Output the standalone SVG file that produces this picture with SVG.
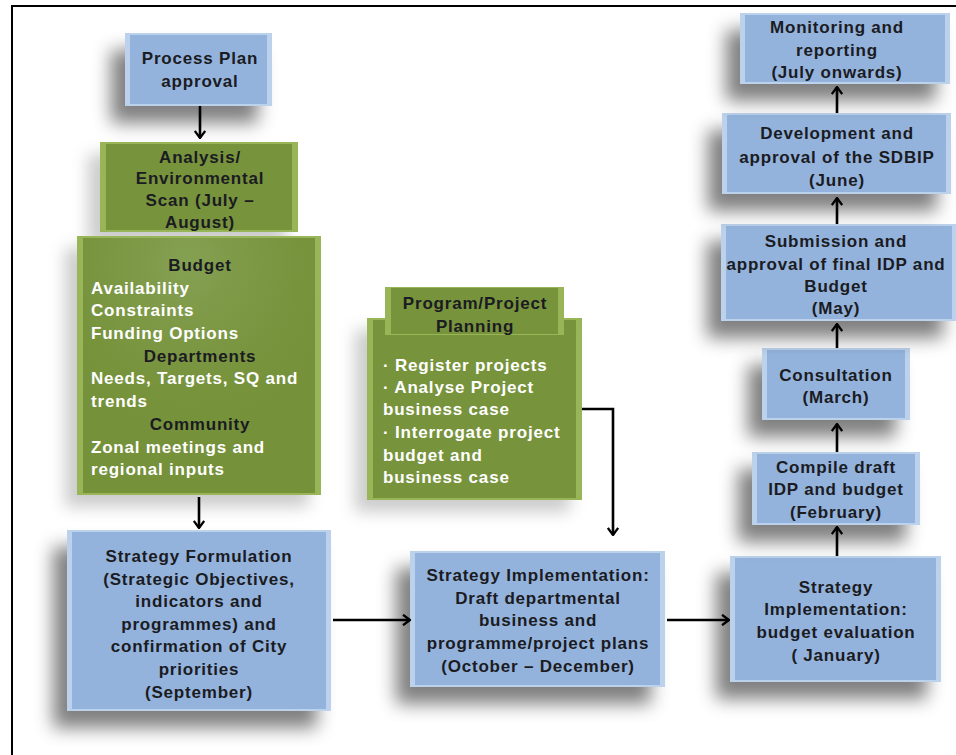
<svg xmlns="http://www.w3.org/2000/svg" width="956" height="755" viewBox="0 0 956 755">
<style>
.t{font-family:"Liberation Sans",Arial,sans-serif;font-weight:bold;font-size:17px;letter-spacing:0.8px;text-anchor:middle;fill:#1b1b22}
.w{fill:#ffffff;text-anchor:start}
.bo{fill:#bcd1eb}
.bi{fill:#93b3dc}
.go{fill:#98b658}
.gi{fill:#77933c}
.c{fill:none;stroke:#000;stroke-width:2.6}
</style>
<defs>
<filter id="sh" x="-30%" y="-30%" width="160%" height="180%">
<feGaussianBlur in="SourceAlpha" stdDeviation="9"/>
<feOffset dx="-14" dy="17" result="b"/>
<feFlood flood-color="#000" flood-opacity="0.5"/>
<feComposite in2="b" operator="in"/>
<feMerge><feMergeNode/><feMergeNode in="SourceGraphic"/></feMerge>
</filter>
<filter id="shl" x="-30%" y="-30%" width="160%" height="170%">
<feGaussianBlur in="SourceAlpha" stdDeviation="8"/>
<feOffset dx="-12" dy="12" result="b"/>
<feFlood flood-color="#000" flood-opacity="0.2"/>
<feComposite in2="b" operator="in"/>
<feMerge><feMergeNode/><feMergeNode in="SourceGraphic"/></feMerge>
</filter>
<radialGradient id="gg" cx="0.45" cy="0.1" r="0.7">
<stop offset="0" stop-color="#84a052"/>
<stop offset="0.7" stop-color="#77933c"/>
<stop offset="1" stop-color="#75913a"/>
</radialGradient>
<marker id="ah" viewBox="0 0 12 12" refX="11" refY="6" markerWidth="12" markerHeight="12" markerUnits="userSpaceOnUse" orient="auto">
<path d="M4,0.8 L11,6 L4,11.2" fill="none" stroke="#000" stroke-width="2.3"/>
</marker>
</defs>

<rect width="956" height="755" fill="#ffffff"/>
<path d="M12,755 V6 H956" fill="none" stroke="#000" stroke-width="2"/>

<g id="n-process">
<rect class="bo" x="125" y="33" width="147" height="73" filter="url(#sh)"/>
<rect class="bi" x="130" y="35" width="137" height="69"/>
<text class="t" x="200" y="64">Process Plan</text>
<text class="t" x="200" y="87">approval</text>
</g>

<g id="n-analysis">
<rect class="go" x="100" y="142" width="198" height="90" filter="url(#shl)"/>
<rect class="gi" x="106" y="144" width="186" height="86"/>
<text class="t" x="200" y="163">Analysis/</text>
<text class="t" x="200" y="184">Environmental</text>
<text class="t" x="200" y="206">Scan (July –</text>
<text class="t" x="200" y="228">August)</text>
</g>

<g id="n-budget">
<rect class="go" x="77" y="236" width="244" height="259" filter="url(#shl)"/>
<rect x="83" y="238" width="232" height="255" fill="url(#gg)"/>
<text class="t" x="200" y="271">Budget</text>
<text class="t w" x="91" y="294">Availability</text>
<text class="t w" x="91" y="316">Constraints</text>
<text class="t w" x="91" y="339">Funding Options</text>
<text class="t" x="200" y="362">Departments</text>
<text class="t w" x="91" y="384">Needs, Targets, SQ and</text>
<text class="t w" x="91" y="407">trends</text>
<text class="t" x="200" y="430">Community</text>
<text class="t w" x="91" y="453">Zonal meetings and</text>
<text class="t w" x="91" y="475">regional inputs</text>
</g>

<g id="n-program">
<rect class="go" x="367" y="318" width="215" height="182" filter="url(#shl)"/>
<rect class="gi" x="373" y="320" width="203" height="178"/>
<rect class="go" x="385" y="287" width="179" height="48"/>
<rect class="gi" x="391" y="288" width="167" height="46"/>
<text class="t" x="475" y="309">Program/Project</text>
<text class="t" x="475" y="332">Planning</text>
<text class="t w" x="383" y="371">· Register projects</text>
<text class="t w" x="383" y="393">· Analyse Project</text>
<text class="t w" x="383" y="415">business case</text>
<text class="t w" x="383" y="438">· Interrogate project</text>
<text class="t w" x="383" y="461">budget and</text>
<text class="t w" x="383" y="483">business case</text>
</g>

<g id="n-formulation">
<rect class="bo" x="67" y="530" width="264" height="181" filter="url(#sh)"/>
<rect class="bi" x="72" y="532" width="254" height="177"/>
<text class="t" x="199" y="562">Strategy Formulation</text>
<text class="t" x="199" y="585">(Strategic Objectives,</text>
<text class="t" x="199" y="607">indicators and</text>
<text class="t" x="199" y="630">programmes) and</text>
<text class="t" x="199" y="652">confirmation of City</text>
<text class="t" x="199" y="675">priorities</text>
<text class="t" x="199" y="698">(September)</text>
</g>

<g id="n-implementation">
<rect class="bo" x="410" y="551" width="255" height="136" filter="url(#sh)"/>
<rect class="bi" x="415" y="553" width="245" height="132"/>
<text class="t" x="538" y="581">Strategy Implementation:</text>
<text class="t" x="538" y="604">Draft departmental</text>
<text class="t" x="538" y="626">business and</text>
<text class="t" x="538" y="649">programme/project plans</text>
<text class="t" x="538" y="672">(October – December)</text>
</g>

<g id="n-evaluation">
<rect class="bo" x="730" y="556" width="211" height="126" filter="url(#sh)"/>
<rect class="bi" x="735" y="558" width="201" height="122"/>
<text class="t" x="836" y="593">Strategy</text>
<text class="t" x="836" y="615">Implementation:</text>
<text class="t" x="836" y="638">budget evaluation</text>
<text class="t" x="836" y="661">( January)</text>
</g>

<g id="n-compile">
<rect class="bo" x="752" y="452" width="168" height="73" filter="url(#sh)"/>
<rect class="bi" x="757" y="454" width="158" height="69"/>
<text class="t" x="836" y="473">Compile draft</text>
<text class="t" x="836" y="495">IDP and budget</text>
<text class="t" x="836" y="518">(February)</text>
</g>

<g id="n-consultation">
<rect class="bo" x="762" y="348" width="148" height="72" filter="url(#sh)"/>
<rect class="bi" x="767" y="350" width="138" height="68"/>
<text class="t" x="836" y="381">Consultation</text>
<text class="t" x="836" y="403">(March)</text>
</g>

<g id="n-submission">
<rect class="bo" x="721" y="224" width="236" height="97" filter="url(#sh)"/>
<rect class="bi" x="726" y="226" width="226" height="93"/>
<text class="t" x="836" y="247">Submission and</text>
<text class="t" x="836" y="270">approval of final IDP and</text>
<text class="t" x="836" y="292">Budget</text>
<text class="t" x="836" y="314">(May)</text>
</g>

<g id="n-sdbip">
<rect class="bo" x="722" y="113" width="229" height="81" filter="url(#sh)"/>
<rect class="bi" x="727" y="115" width="219" height="77"/>
<text class="t" x="837" y="139">Development and</text>
<text class="t" x="837" y="163">approval of the SDBIP</text>
<text class="t" x="837" y="186">(June)</text>
</g>

<g id="n-monitoring">
<rect class="bo" x="740" y="13" width="210" height="71" filter="url(#sh)"/>
<rect class="bi" x="745" y="15" width="200" height="67"/>
<text class="t" x="837" y="33">Monitoring and</text>
<text class="t" x="837" y="56">reporting</text>
<text class="t" x="837" y="78">(July onwards)</text>
</g>

<g id="connectors">
<line class="c" x1="200" y1="106" x2="200" y2="138" marker-end="url(#ah)"/>
<line class="c" x1="199" y1="497" x2="199" y2="528" marker-end="url(#ah)"/>
<line class="c" x1="333" y1="620" x2="410" y2="620" marker-end="url(#ah)"/>
<polyline class="c" points="582,409 613,409 613,535" marker-end="url(#ah)"/>
<line class="c" x1="667" y1="620" x2="729" y2="620" marker-end="url(#ah)"/>
<line class="c" x1="837" y1="556" x2="837" y2="527" marker-end="url(#ah)"/>
<line class="c" x1="837" y1="452" x2="837" y2="424" marker-end="url(#ah)"/>
<line class="c" x1="837" y1="348" x2="837" y2="324" marker-end="url(#ah)"/>
<line class="c" x1="837" y1="224" x2="837" y2="198" marker-end="url(#ah)"/>
<line class="c" x1="837" y1="113" x2="837" y2="87" marker-end="url(#ah)"/>
</g>
</svg>
